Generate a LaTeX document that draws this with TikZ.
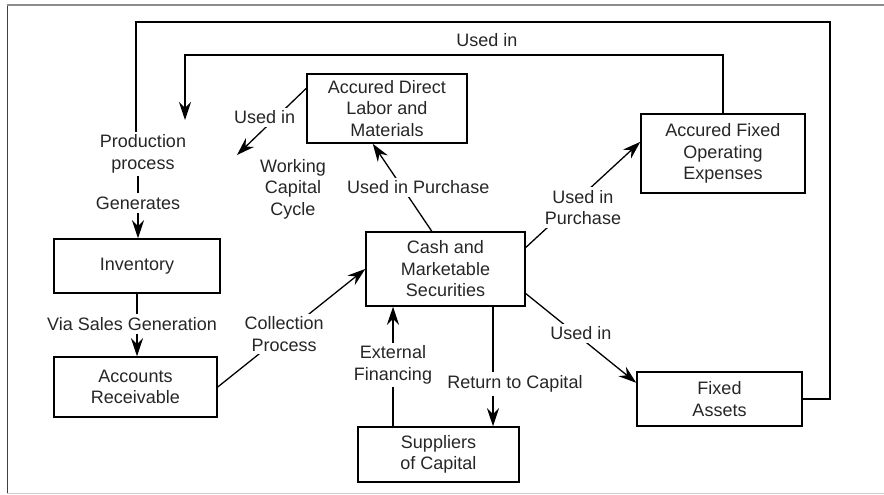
\documentclass[tikz,border=0pt]{standalone}
\usepackage{fontspec}
\setmainfont{Liberation Sans}
\usetikzlibrary{arrows.meta,calc,positioning}

\tikzset{
  box/.style={draw, line width=1.5pt, align=center, inner sep=2pt},
  lbl/.style={align=center, inner sep=3pt, fill=white},
  link/.style={line width=1.3pt},
  arr/.style={link, -{Stealth[length=18pt,width=12pt,inset=6pt]}},
}

\begin{document}
\begin{tikzpicture}[x=1pt, y=-1pt, font=\fontsize{18}{21.5}\selectfont, text=black!85]
\useasboundingbox (0,0) rectangle (884,495);

% Draw frame.
\draw[line width=1.5pt, black!75] (7.5,5) -- (7.5,493);
\draw[line width=1.2pt, black!45] (7,5) -- (884,5);
\draw[line width=1pt, black!20] (7,493) -- (884,493);

% Draw boxes.
\node[box, minimum width=160pt, minimum height=69pt] (labor) at (387,108.5) {Accured Direct\\Labor and\\Materials};
\node[box, minimum width=164pt, minimum height=79pt] (fixedexp) at (723,153.5) {Accured Fixed\\Operating\\Expenses};
\node[box, minimum width=159pt, minimum height=74pt] (cash) at (445.5,269) {Cash and\\Marketable\\Securities};
\node[box, minimum width=166pt, minimum height=54pt] (inventory) at (137,266) {Inventory};
\node[box, minimum width=163pt, minimum height=60pt] (receivable) at (135.5,387) {Accounts\\Receivable};
\node[box, minimum width=161pt, minimum height=55pt] (suppliers) at (438.5,454.5) {Suppliers\\of Capital};
\node[box, minimum width=165pt, minimum height=54pt] (assets) at (719.5,399) {Fixed\\Assets};

% Free labels.
\node[lbl] (production) at (143,154) {Production\\process};
\node[lbl] (generates) at (138,203) {Generates};
\node[lbl] (sales) at (132,324) {Via Sales Generation};
\node[lbl] (cycle) at (293,189) {Working\\Capital\\Cycle};
\node[lbl] (external) at (393,365) {External\\Financing};
\node[lbl] (return) at (515,384) {Return to Capital};
\node[lbl] (usedtop) at (487,40) {Used in};

% Corner points.
\coordinate (cyclein) at (237,155);
\coordinate (topout) at (830,22);
\coordinate (topin) at (185,55);
\coordinate (prodin) at (185,120);
\coordinate (retx) at ($(cash.south)+(47.5,0)$);

% Production side.
\draw[link] (generates.north) -- (generates.north |- production.south);
\draw[arr] (generates.south) -- (generates.south |- inventory.north);
\draw[link] (inventory.south) -- (inventory.south |- sales.north);
\draw[arr] (inventory.south |- sales.south) -- (inventory.south |- receivable.north);
\draw[arr] (receivable.east) -- node[lbl, pos=.45] (collection) {Collection\\Process} (cash.west);

% Cash flows out.
\draw[arr] (labor.166) -- node[lbl, pos=.6, yshift=11pt] (usedlabor) {Used in} (cyclein);
\draw[arr] (cash.110) -- node[lbl, pos=.5, xshift=16pt] (buylabor) {Used in Purchase} (labor.248);
\draw[arr] (cash.15) -- node[lbl, pos=.5, yshift=-13pt] (buyfixed) {Used in\\Purchase} (fixedexp.172);
\draw[arr] (cash.-17) -- node[lbl, pos=.5, yshift=5pt] (usedassets) {Used in} (assets.169);

% Capital.
\draw[link] (retx) -- (retx |- return.north);
\draw[arr] (retx |- return.south) -- (retx |- suppliers.north);
\draw[link] (external.south |- suppliers.north) -- (external.south);
\draw[arr] (external.north) -- (external.north |- cash.south);

% Loops back to production.
\draw[link] (assets.east) -| (topout) -| ([xshift=-7pt]production.north);
\draw[arr] (fixedexp.north) |- (topin) -- (prodin);
\end{tikzpicture}
\end{document}
